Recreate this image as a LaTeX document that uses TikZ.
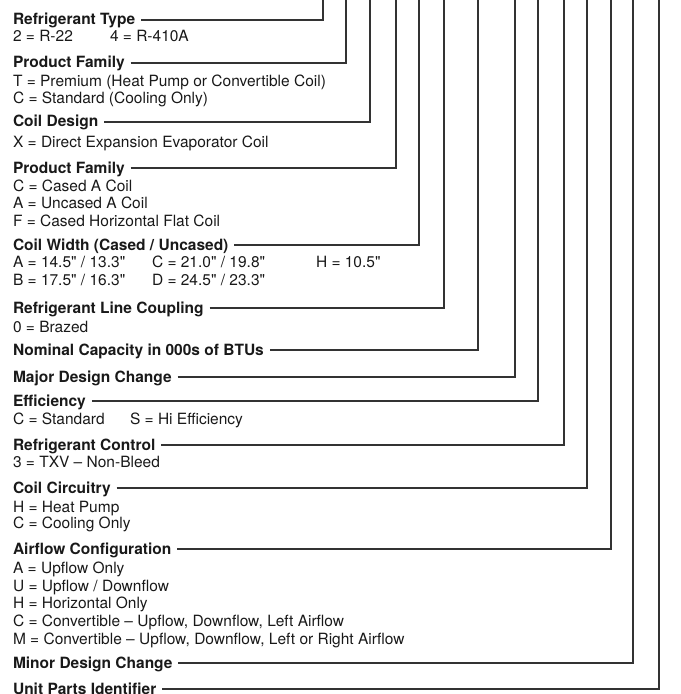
\documentclass[tikz,border=0pt]{standalone}
\usepackage{fontspec}
\setmainfont{TeX Gyre Heros}[Ligatures=TeXOff]
\begin{document}
\begin{tikzpicture}[x=1bp,y=-1bp,
  every node/.style={inner sep=0pt,outer sep=0pt,anchor=base west,font=\fontsize{15.5bp}{17.5bp}\selectfont,text=black!90},
  head/.style={font=\fontsize{15.5bp}{17.5bp}\selectfont\bfseries,text height=10bp,text depth=0bp},
  conn/.style={draw=black!80,line width=1.1bp}]
\useasboundingbox (0,0) rectangle (681,694);
% top ends of connectors
\foreach \i/\x in {1/323,2/346,3/370,4/396,5/419,6/444,7/478,8/515,9/538,10/564,11/587,12/611,13/633,14/659}
  \coordinate (t\i) at (\x,-2);
% 1
\node[head] (h1) at (13,25) {Refrigerant Type};
\node (s1a) at (13,42) {2 = R-22};
\node (s1b) at (110,42) {4 = R-410A};
% 2
\node[head] (h2) at (13,68) {Product Family};
\node (s2a) at (13,87) {T = Premium (Heat Pump or Convertible Coil)};
\node (s2b) at (13,104) {C = Standard (Cooling Only)};
% 3
\node[head] (h3) at (13,127) {Coil Design};
\node (s3a) at (13,147) {X = Direct Expansion Evaporator Coil};
% 4
\node[head] (h4) at (13,173) {Product Family};
\node (s4a) at (13,191) {C = Cased A Coil};
\node (s4b) at (13,208) {A = Uncased A Coil};
\node (s4c) at (13,226) {F = Cased Horizontal Flat Coil};
% 5
\node[head] (h5) at (13,250) {Coil Width (Cased / Uncased)};
\node (s5a) at (13,267) {A = 14.5" / 13.3"};
\node (s5b) at (152,267) {C = 21.0" / 19.8"};
\node (s5c) at (316,267) {H = 10.5"};
\node (s5d) at (13,285) {B = 17.5" / 16.3"};
\node (s5e) at (152,285) {D = 24.5" / 23.3"};
% 6
\node[head] (h6) at (13,313) {Refrigerant Line Coupling};
\node (s6a) at (13,332) {0 = Brazed};
% 7
\node[head] (h7) at (13,355) {Nominal Capacity in 000s of BTUs};
% 8
\node[head] (h8) at (13,382) {Major Design Change};
% 9
\node[head] (h9) at (13,406) {Efficiency};
\node (s9a) at (13,424) {C = Standard};
\node (s9b) at (130,424) {S = Hi Efficiency};
% 10
\node[head] (h10) at (13,450) {Refrigerant Control};
\node (s10a) at (13,467) {3 = TXV – Non-Bleed};
% 11
\node[head] (h11) at (13,493) {Coil Circuitry};
\node (s11a) at (13,512) {H = Heat Pump};
\node (s11b) at (13,528) {C = Cooling Only};
% 12
\node[head] (h12) at (13,554) {Airflow Configuration};
\node (s12a) at (13,573) {A = Upflow Only};
\node (s12b) at (13,591) {U = Upflow / Downflow};
\node (s12c) at (13,608) {H = Horizontal Only};
\node (s12d) at (13,626) {C = Convertible – Upflow, Downflow, Left Airflow};
\node (s12e) at (13,644) {M = Convertible – Upflow, Downflow, Left or Right Airflow};
% 13
\node[head] (h13) at (13,668) {Minor Design Change};
% 14
\node[head] (h14) at (13,694) {Unit Parts Identifier};
% connectors
\foreach \i in {1,...,14}
  \draw[conn] ([xshift=6bp]h\i.east) -| (t\i);
\end{tikzpicture}
\end{document}
